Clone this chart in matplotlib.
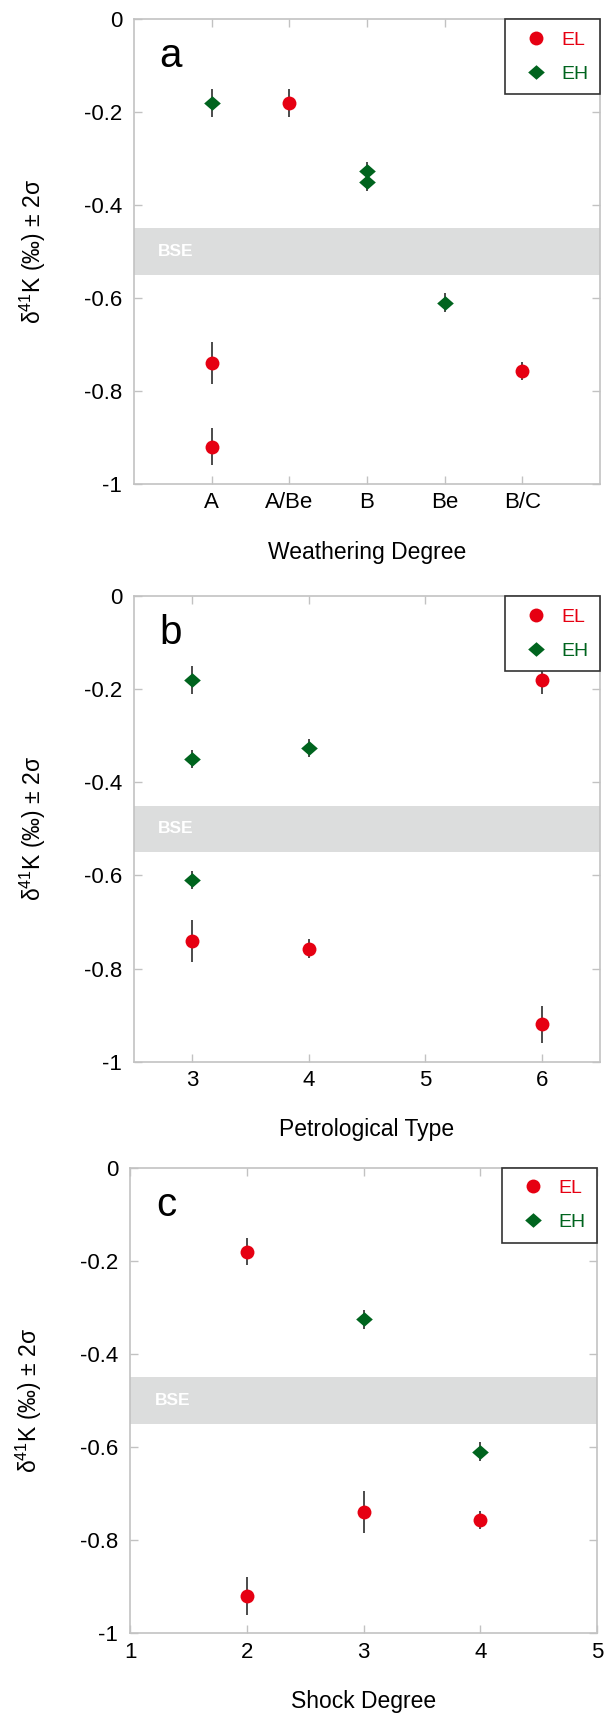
import matplotlib
matplotlib.use("Agg")
import matplotlib.pyplot as plt
import matplotlib.transforms as mtransforms
from matplotlib.lines import Line2D

plt.rcParams["font.family"] = ["Liberation Sans", "DejaVu Sans"]
plt.rcParams["mathtext.fontset"] = "custom"
plt.rcParams["mathtext.rm"] = "Liberation Sans"
plt.rcParams["mathtext.it"] = "Liberation Sans:italic"

# ── Style ─────────────────────────────────────────────────────────────────────
RED = "#e60012"
GREEN = "#00641e"
SPINE = "#c2c2c2"
BAND = "#dcdddd"
ERR = "#1a1a1a"
DIAMOND = [(-1, 0), (0, 0.875), (1, 0), (0, -0.875), (-1, 0)]

# ── Data (δ41K, ‰, with 2σ) ───────────────────────────────────────────────────
YTICKS = [0, -0.2, -0.4, -0.6, -0.8, -1]
BSE_LO, BSE_HI = -0.55, -0.45

# a: weathering degree (categorical)
WEATHER_CATS = ["A", "A/Be", "B", "Be", "B/C"]
A_EL_CAT = ["A", "A", "A/Be", "B/C"]
A_EL_Y = [-0.74, -0.92, -0.18, -0.757]
A_EL_ERR = [0.045, 0.04, 0.03, 0.02]
A_EH_CAT = ["A", "B", "B", "Be"]
A_EH_Y = [-0.18, -0.326, -0.35, -0.61]
A_EH_ERR = [0.03, 0.02, 0.02, 0.02]

# b: petrological type
PETRO_TICKS = [3, 4, 5, 6]
B_EL_X = [3, 4, 6, 6]
B_EL_Y = [-0.74, -0.757, -0.18, -0.92]
B_EL_ERR = [0.045, 0.02, 0.03, 0.04]
B_EH_X = [3, 3, 3, 4]
B_EH_Y = [-0.18, -0.35, -0.61, -0.326]
B_EH_ERR = [0.03, 0.02, 0.02, 0.02]

# c: shock degree
SHOCK_TICKS = [1, 2, 3, 4, 5]
C_EL_X = [2, 2, 3, 4]
C_EL_Y = [-0.18, -0.92, -0.74, -0.757]
C_EL_ERR = [0.03, 0.04, 0.045, 0.02]
C_EH_X = [3, 4]
C_EH_Y = [-0.326, -0.61]
C_EH_ERR = [0.02, 0.02]


def draw_panel(ax, letter, el, eh, xlim, xticks, xticklabels, xlabel):
    ax.axhspan(BSE_LO, BSE_HI, color=BAND, lw=0, zorder=0)
    trans = mtransforms.blended_transform_factory(ax.transAxes, ax.transData)
    ax.text(0.052, (BSE_LO + BSE_HI) / 2, "BSE", transform=trans, color="white",
            fontsize=12.5, fontweight="bold", va="center", ha="left", zorder=1)

    ekw = dict(ls="none", ecolor=ERR, elinewidth=1.1, capsize=3.5, capthick=1.3)
    ax.errorbar(el[0], el[1], yerr=el[2], marker="o", ms=10, mfc=RED, mec=RED,
                mew=0, zorder=3, **ekw)
    ax.errorbar(eh[0], eh[1], yerr=eh[2], marker=DIAMOND, ms=12, mfc=GREEN,
                mec=GREEN, mew=0, zorder=3, **ekw)

    ax.set_xlim(*xlim)
    ax.set_ylim(-1, 0)
    ax.set_xticks(xticks)
    ax.set_xticklabels(xticklabels)
    ax.set_yticks(YTICKS)
    ax.set_yticklabels([f"{v:g}" for v in YTICKS])

    for sp in ax.spines.values():
        sp.set_color(SPINE)
        sp.set_linewidth(1.2)
    ax.tick_params(direction="in", length=5.8, width=1, color=SPINE,
                   top=True, right=True, labelsize=16, labelcolor="black")
    ax.tick_params(axis="x", pad=6)
    ax.tick_params(axis="y", pad=8.6)

    ax.set_xlabel(xlabel, fontsize=16.5)
    ax.xaxis.set_label_coords(0.5, -0.122)
    ax.set_ylabel("δ$^{41}$K (‰) ± 2σ", fontsize=16.5)
    ax.yaxis.set_label_coords(-0.185, 0.5)

    ax.text(0.055, 0.897, letter, transform=ax.transAxes, fontsize=29,
            va="baseline", ha="left")

    handles = [
        Line2D([], [], ls="none", marker="o", ms=10, mfc=RED, mec=RED, mew=0),
        Line2D([], [], ls="none", marker=DIAMOND, ms=12, mfc=GREEN, mec=GREEN, mew=0),
    ]
    leg = ax.legend(handles, ["EL", "EH"], loc="upper right", borderaxespad=0,
                    fancybox=False, edgecolor="#333333", framealpha=1,
                    fontsize=14, handlelength=2.0, handletextpad=0.3,
                    borderpad=0.6, labelspacing=0.85, labelcolor=[RED, GREEN])
    leg.get_frame().set_linewidth(1.2)


fig = plt.figure(figsize=(6.08, 17.19), dpi=100, facecolor="white")

ax_a = fig.add_axes([0.2204, 0.71844, 0.7664, 0.27033])
ax_b = fig.add_axes([0.2204, 0.38243, 0.7664, 0.27068])
ax_c = fig.add_axes([0.2143, 0.04985, 0.7676, 0.27086])

a_el_x = [WEATHER_CATS.index(c) + 1 for c in A_EL_CAT]
a_eh_x = [WEATHER_CATS.index(c) + 1 for c in A_EH_CAT]
draw_panel(ax_a, "a", (a_el_x, A_EL_Y, A_EL_ERR), (a_eh_x, A_EH_Y, A_EH_ERR),
           (0, len(WEATHER_CATS) + 1), range(1, len(WEATHER_CATS) + 1),
           WEATHER_CATS, "Weathering Degree")
draw_panel(ax_b, "b", (B_EL_X, B_EL_Y, B_EL_ERR), (B_EH_X, B_EH_Y, B_EH_ERR),
           (2.5, 6.5), PETRO_TICKS, [str(t) for t in PETRO_TICKS], "Petrological Type")
draw_panel(ax_c, "c", (C_EL_X, C_EL_Y, C_EL_ERR), (C_EH_X, C_EH_Y, C_EH_ERR),
           (1, 5), SHOCK_TICKS, [str(t) for t in SHOCK_TICKS], "Shock Degree")

fig.savefig("out.png", dpi=100, facecolor="white")
